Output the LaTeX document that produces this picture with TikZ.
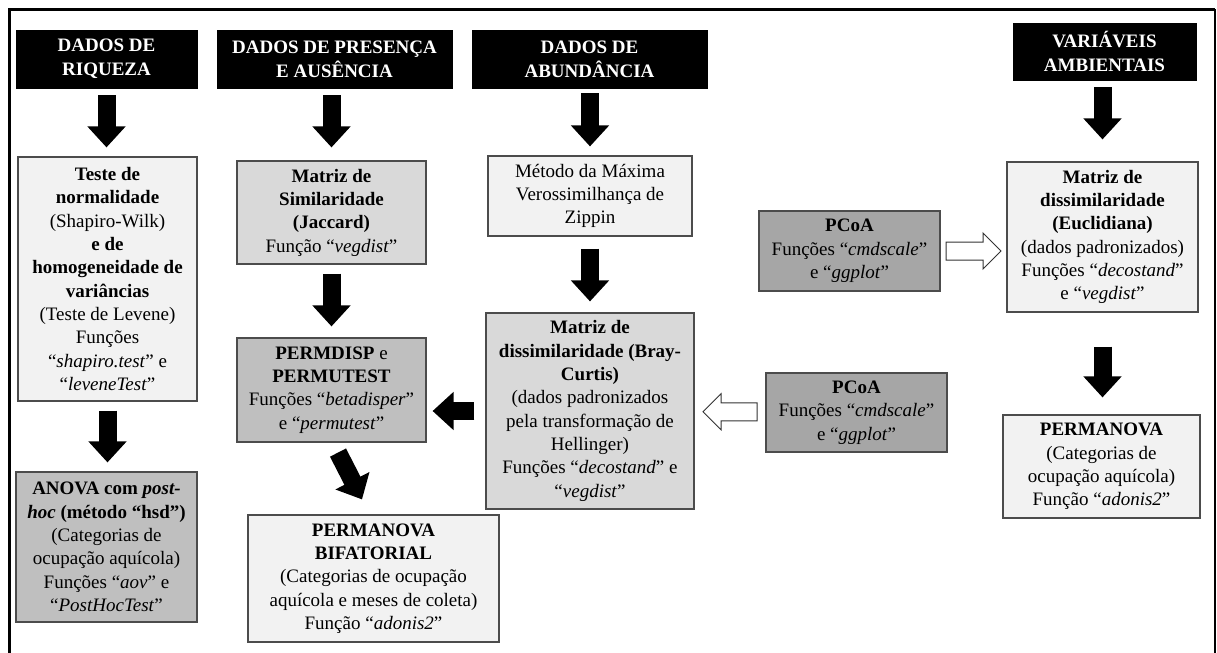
\documentclass[tikz,border=0pt]{standalone}
\usepackage{fontspec}
\setmainfont{Liberation Serif}
\usetikzlibrary{arrows.meta,calc}
\definecolor{gA}{HTML}{F2F2F2}
\definecolor{gB}{HTML}{D9D9D9}
\definecolor{gC}{HTML}{BFBFBF}
\definecolor{gD}{HTML}{A6A6A6}
\tikzset{
  box/.style={draw=black!70, line width=0.7pt, align=center, inner sep=0pt,
    font=\fontsize{11.4}{14}\selectfont, text=black},
  hdr/.style={fill=black, draw=black, align=center, inner sep=0pt, text=white,
    font=\fontsize{11.4}{14.4}\selectfont\bfseries},
  bigarrow/.style={black, line width=10.8pt, -{Triangle[width=22.2pt, length=12.6pt]}},
  hollowarrow/.style={draw=black!80, line width=0.6pt, fill=white, line join=miter},
  frameline/.style={black, line width=1.8pt},
}
\begin{document}
\begin{tikzpicture}[x=0.6pt, y=-0.6pt]
\useasboundingbox (0,0) rectangle (1217,653);
% outer frame
\draw[frameline] (9,653) -- (9,9) -- (1215,9);
\draw[black, line width=1.2pt] (1215,9) -- (1215,653);

% headers
\node[hdr, minimum width=108.6pt, minimum height=34.8pt] (h1) at (106.5,59) {DADOS DE\\RIQUEZA};
\node[hdr, minimum width=141pt, minimum height=34.8pt] (h2) at (334.5,59) {DADOS DE PRESENÇA\\E AUSÊNCIA};
\node[hdr, minimum width=141pt, minimum height=34.8pt] (h3) at (589.5,59) {DADOS DE\\ABUNDÂNCIA};
\node[hdr, minimum width=109.8pt, minimum height=34.2pt] (h4) at (1104.5,51.5) {VARIÁVEIS\\AMBIENTAIS};

% boxes
\node[box, fill=gA, minimum width=107.4pt, minimum height=146.4pt] (teste) at (107.5,279)
  {\textbf{Teste de}\\\textbf{normalidade}\\(Shapiro-Wilk)\\\textbf{e de}\\\textbf{homogeneidade de}\\\textbf{variâncias}\\(Teste de Levene)\\Funções\\“\textit{shapiro.test}” e\\“\textit{leveneTest}”};
\node[box, fill=gC, minimum width=108.6pt, minimum height=90pt] (anova) at (106.5,547)
  {\textbf{ANOVA com \textit{post-}}\\\textbf{\textit{hoc} (método “hsd”)}\\(Categorias de\\ocupação aquícola)\\Funções “\textit{aov}” e\\“\textit{PostHocTest}”};
\node[box, fill=gB, minimum width=113.4pt, minimum height=61.8pt] (simil) at (331.5,212.5)
  {\textbf{Matriz de}\\\textbf{Similaridade}\\\textbf{(Jaccard)}\\Função “\textit{vegdist}”};
\node[box, fill=gC, minimum width=113.4pt, minimum height=62.4pt] (permdisp) at (331.5,390)
  {\textbf{PERMDISP} e\\\textbf{PERMUTEST}\\Funções “\textit{betadisper}”\\e “\textit{permutest}”};
\node[box, fill=gA, minimum width=150.6pt, minimum height=76.2pt] (bifat) at (373.5,578.5)
  {\textbf{PERMANOVA}\\\textbf{BIFATORIAL}\\(Categorias de ocupação\\aquícola e meses de coleta)\\Função “\textit{adonis2}”};
\node[box, fill=gA, minimum width=122.4pt, minimum height=48pt] (metodo) at (590,196)
  {Método da Máxima\\Verossimilhança de\\Zippin};
\node[box, fill=gB, minimum width=124.8pt, minimum height=117.6pt] (bray) at (590,411)
  {\textbf{Matriz de}\\\textbf{dissimilaridade (Bray-}\\\textbf{Curtis)}\\(dados padronizados\\pela transformação de\\Hellinger)\\Funções “\textit{decostand}” e\\“\textit{vegdist}”};
\node[box, fill=gD, minimum width=108.6pt, minimum height=48pt] (pcoa1) at (849.5,251)
  {\textbf{PCoA}\\Funções “\textit{cmdscale}”\\e “\textit{ggplot}”};
\node[box, fill=gD, minimum width=108.6pt, minimum height=47.4pt] (pcoa2) at (856.5,412.5)
  {\textbf{PCoA}\\Funções “\textit{cmdscale}”\\e “\textit{ggplot}”};
\node[box, fill=gA, minimum width=114.6pt, minimum height=90pt] (euclid) at (1102.5,237)
  {\textbf{Matriz de}\\\textbf{dissimilaridade}\\\textbf{(Euclidiana)}\\(dados padronizados)\\Funções “\textit{decostand}”\\e “\textit{vegdist}”};
\node[box, fill=gA, minimum width=118.2pt, minimum height=61.8pt] (permanova) at (1101.5,466.5)
  {\textbf{PERMANOVA}\\(Categorias de\\ocupação aquícola)\\Função “\textit{adonis2}”};

% black arrows
\draw[bigarrow, shorten <=4.2pt, shorten >=5.4pt] (h1.south) -- (h1.south |- teste.north);
\draw[bigarrow, shorten <=4.2pt, shorten >=7.8pt] (simil.north |- h2.south) -- (simil.north);
\draw[bigarrow, shorten <=3pt, shorten >=5.4pt] (metodo.north |- h3.south) -- (metodo.north);
\draw[bigarrow, shorten <=4.2pt, shorten >=13.2pt] (euclid.north |- h4.south) -- (euclid.north);
\draw[bigarrow, shorten <=5.4pt, shorten >=5.4pt] (teste.south) -- (teste.south |- anova.north);
\draw[bigarrow, shorten <=5.4pt, shorten >=6.6pt] (simil.south) -- (permdisp.north);
\draw[bigarrow, shorten <=7.2pt, shorten >=6.6pt] (metodo.south) -- (bray.north);
\draw[bigarrow, shorten <=20.4pt, shorten >=10.2pt] (euclid.south) -- (euclid.south |- permanova.north);
\draw[bigarrow, shorten <=6.6pt, shorten >=3.6pt] (bray.west) -- (bray.west -| permdisp.east);
\draw[bigarrow] ($(permdisp.south)+(6.5,10)$) -- ($(bifat.north)+(-11.5,-15)$);

% hollow arrows
\draw[hollowarrow] ($($(pcoa1.east)!0.5!(euclid.west |- pcoa1.east)$)+(27.5,0)$)
  -- ++(-18,-18) -- ++(0,9) -- ++(-37,0) -- ++(0,18) -- ++(37,0) -- ++(0,9) -- cycle;
\draw[hollowarrow] ($($(bray.east)!0.5!(pcoa2.west)$)+(-27,0)$)
  -- ++(18,-18) -- ++(0,9) -- ++(36,0) -- ++(0,18) -- ++(-36,0) -- ++(0,9) -- cycle;
\end{tikzpicture}
\end{document}
